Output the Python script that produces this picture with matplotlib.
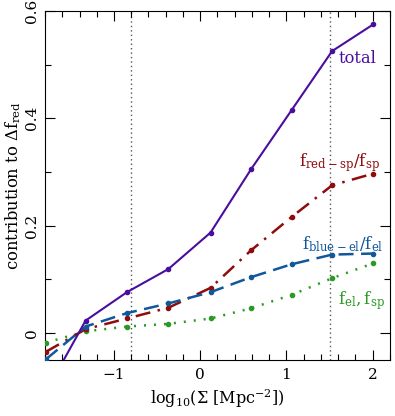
import matplotlib
matplotlib.use("Agg")
import matplotlib.pyplot as plt
from matplotlib.ticker import MultipleLocator, FuncFormatter

x = [-1.79, -1.33, -0.85, -0.37, 0.12, 0.59, 1.06, 1.53, 2.01]
total = [-0.11, 0.023, 0.076, 0.119, 0.187, 0.305, 0.415, 0.525, 0.575]
red_sp = [-0.035, 0.007, 0.027, 0.047, 0.084, 0.154, 0.216, 0.275, 0.297]
blue_el = [-0.049, 0.012, 0.037, 0.055, 0.076, 0.104, 0.128, 0.146, 0.148]
el_sp = [-0.018, 0.003, 0.012, 0.017, 0.027, 0.046, 0.071, 0.102, 0.130]
vlines = [-0.8, 1.5]

plt.rcParams['font.family'] = ['DejaVu Serif']
plt.rcParams['mathtext.fontset'] = 'dejavuserif'

fig = plt.figure(figsize=(3.95, 4.16), dpi=100)
ax = fig.add_axes([0.114, 0.135, 0.873, 0.839])

c_tot = '#4a0e9e'
c_red = '#8e0c0c'
c_blue = '#11579c'
c_green = '#2a9a25'

for v in vlines:
    ax.axvline(v, color='#555555', lw=1.0, ls=(0, (1, 2.2)), zorder=1)

ax.plot(x, total, color=c_tot, lw=1.5, marker='o', ms=3, zorder=5)
ax.plot(x, red_sp, color=c_red, lw=1.8, marker='o', ms=3, ls=(0, (6, 3, 1, 3)), zorder=4)
ax.plot(x, blue_el, color=c_blue, lw=1.8, marker='o', ms=3, ls=(0, (6, 3)), zorder=4)
ax.plot(x, el_sp, color=c_green, lw=1.8, marker='o', ms=3, ls=(0, (0.8, 3.2)), zorder=3)

ax.set_xlim(-1.8, 2.2)
ax.set_ylim(-0.05, 0.6)
ax.xaxis.set_major_locator(MultipleLocator(1))
ax.xaxis.set_minor_locator(MultipleLocator(0.2))
ax.yaxis.set_major_locator(MultipleLocator(0.2))
ax.yaxis.set_minor_locator(MultipleLocator(0.1))
ax.xaxis.set_major_formatter(FuncFormatter(lambda v, p: '\u2212%d' % abs(v) if v < 0 else '%d' % v))
ax.yaxis.set_major_formatter(FuncFormatter(lambda v, p: '0' if abs(v) < 1e-9 else '%.1f' % v))
ax.tick_params(which='both', direction='in', top=True, right=True, labelsize=11)
ax.tick_params(which='major', length=7, width=0.8)
ax.tick_params(which='minor', length=4, width=0.8)
for lab in ax.get_yticklabels():
    lab.set_rotation(90)
    lab.set_va('center')
ax.tick_params(axis='y', pad=4)
ax.tick_params(axis='x', pad=6)

ax.set_xlabel(r'$\mathrm{log_{10}(\Sigma\ [Mpc^{-2}])}$', fontsize=11.5, labelpad=4)
ax.set_ylabel(r'contribution to $\mathrm{\Delta f_{red}}$', fontsize=11.8, labelpad=2)

ax.text(1.6, 0.503, 'total', color=c_tot, fontsize=11.8)
ax.text(1.15, 0.31, r'$\mathrm{f_{red-sp}/f_{sp}}$', color=c_red, fontsize=12)
ax.text(1.18, 0.155, r'$\mathrm{f_{blue-el}/f_{el}}$', color=c_blue, fontsize=12)
ax.text(1.6, 0.053, r'$\mathrm{f_{el},f_{sp}}$', color=c_green, fontsize=12)

fig.savefig('out.png', dpi=100)
